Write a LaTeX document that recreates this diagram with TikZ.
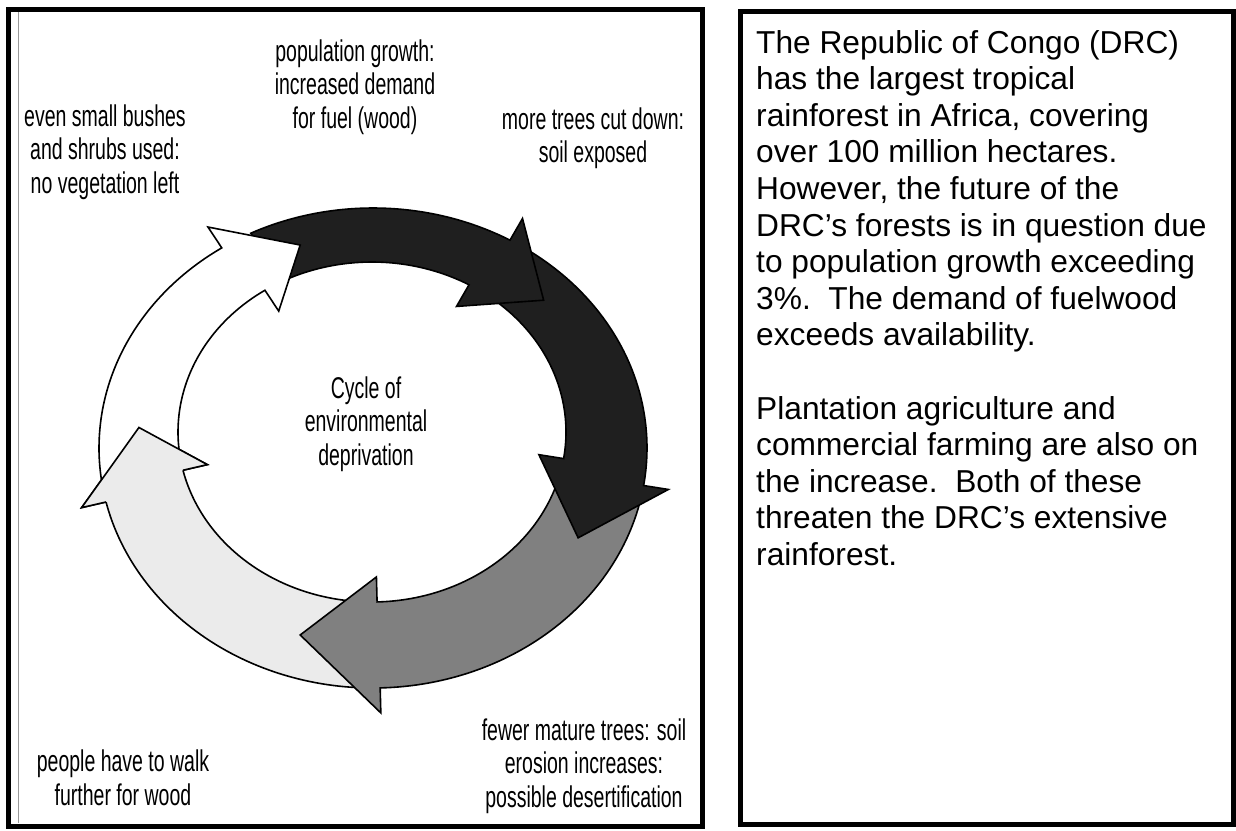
\documentclass[tikz,border=0pt]{standalone}
\usepackage{fontspec}
\setmainfont{Liberation Sans}
\newfontfamily\labelfont[FakeStretch=0.65]{Liberation Sans}
\usetikzlibrary{positioning}
\definecolor{darkfill}{gray}{0.12}
\definecolor{midfill}{gray}{0.50}
\definecolor{palefill}{gray}{0.92}
\tikzset{
  cyclabel/.style={align=center, inner sep=0pt, font=\labelfont\fontsize{30}{33.5}\selectfont},
  infotext/.style={align=left, inner sep=0pt, anchor=north west, font=\fontsize{31.7}{36.6}\selectfont},
  panel/.style={draw=black, line width=5pt},
  band/.style={draw=black, line width=1.6pt, line join=miter}
}
% #1 fill, #2 tail angle, #3 head base angle, #4 tip angle
\newcommand\cyclearrow[4]{%
  \draw[band, fill=#1] plot[domain=#2:#3, variable=\t, samples=60] ({373+274*cos(\t)},{448-240*sin(\t)})
    -- ({373+299*cos(#3)},{448-265*sin(#3)})
    -- ({372.5+234*cos(#4)},{440-205*sin(#4)})
    -- ({372+169*cos(#3)},{432-145*sin(#3)})
    -- plot[domain=#3:#2, variable=\t, samples=60] ({372+194*cos(\t)},{432-170*sin(\t)})
    -- cycle;}
% head only, open path so the base is not stroked
\newcommand\cyclehead[3]{%
  \draw[band, fill=#1] ({373+274*cos(#2)},{448-240*sin(#2)})
    -- ({373+299*cos(#2)},{448-265*sin(#2)})
    -- ({372.5+234*cos(#3)},{440-205*sin(#3)})
    -- ({372+169*cos(#2)},{432-145*sin(#2)})
    -- ({372+194*cos(#2)},{432-170*sin(#2)});}

\begin{document}
\begin{tikzpicture}[x=1pt, y=-1pt]
\useasboundingbox (0,0) rectangle (1236,830);
\fill[white] (0,0) rectangle (1236,830);

% panels
\draw[panel] (8,9) rectangle (702,826);
\draw[black!40, line width=0.8pt] (18,12) -- (18,823);
\draw[panel] (740,11) rectangle (1233,824);

% the cycle, each head laid over the next tail
\cyclearrow{palefill}{-92}{-167}{-183.5}
\cyclearrow{midfill}{-12}{-88.5}{-108}
\cyclearrow{darkfill}{56}{-9}{-28.5}
\cyclearrow{darkfill}{116.5}{60}{43}
\cyclearrow{white}{190}{123.5}{108}
\cyclehead{palefill}{-167}{-183.5}

% labels
\node[cyclabel] (popgrowth) at (355,87) {population growth:\\increased demand\\for fuel (wood)};
\node[cyclabel] (bushes) at (105,152) {even small bushes\\and shrubs used:\\no vegetation left};
\node[cyclabel] (moretrees) at (593,138) {more trees cut down:\\soil exposed};
\node[cyclabel] (cyclename) at (366,424) {Cycle of\\environmental\\deprivation};
\node[cyclabel] (fewertrees) at (584,766) {fewer mature trees: soil\\erosion increases:\\possible desertification};
\node[cyclabel] (walkfurther) at (123,778) {people have to walk\\further for wood};

\node[infotext] (drctext) at (756,30) {The Republic of Congo (DRC)\\has the largest tropical\\rainforest in Africa, covering\\over 100 million hectares.\\However, the future of the\\DRC’s forests is in question due\\to population growth exceeding\\3\%.\ \ The demand of fuelwood\\exceeds availability.\\[36.6pt]Plantation agriculture and\\commercial farming are also on\\the increase.\ \ Both of these\\threaten the DRC’s extensive\\rainforest.};
\end{tikzpicture}
\end{document}
